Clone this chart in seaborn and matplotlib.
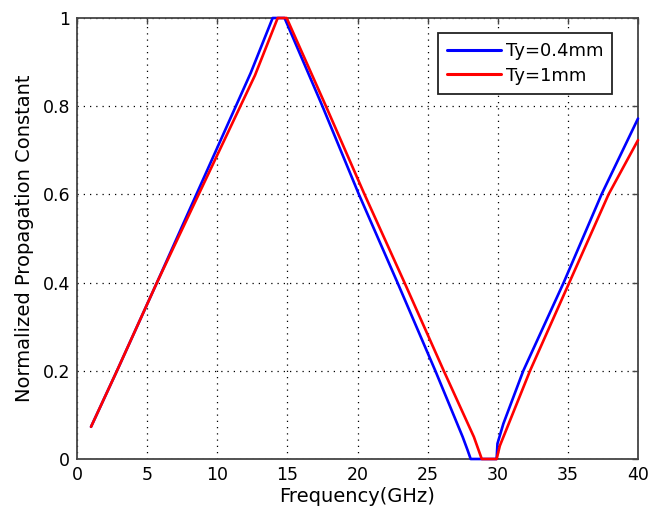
import numpy as np
import pandas as pd
import matplotlib
matplotlib.use("Agg")
import matplotlib.pyplot as plt
import seaborn as sns

# --- data ---
freq_blue = [1, 2.85, 5.7, 12.38, 13.95, 14.8, 17.5, 20.1, 22.85, 25.55,
             27.5, 27.85, 28.07, 29.92, 29.98, 30.4, 31.82, 34.7, 37.4, 40]
beta_blue = [0.073, 0.2, 0.4, 0.875, 1.0, 1.0, 0.8, 0.6, 0.4, 0.2,
             0.05, 0.02, 0.0, 0.0, 0.035, 0.08, 0.2, 0.4, 0.6, 0.772]
freq_red = [1, 2.85, 5.7, 12.69, 14.31, 14.95, 17.75, 20.5, 23.35, 26.15,
            28.3, 28.86, 29.92, 30.15, 32.3, 35.1, 37.9, 40]
beta_red = [0.073, 0.2, 0.4, 0.87, 1.0, 1.0, 0.8, 0.6, 0.4, 0.2,
            0.05, 0.0, 0.0, 0.03, 0.2, 0.4, 0.6, 0.723]
series_names = ["Ty=0.4mm", "Ty=1mm"]
series_colors = ["#0000ff", "#ff0000"]
x_ticks = [0, 5, 10, 15, 20, 25, 30, 35, 40]
y_ticks = [0, 0.2, 0.4, 0.6, 0.8, 1]
y_tick_labels = ["0", "0.2", "0.4", "0.6", "0.8", "1"]

df = pd.concat([
    pd.DataFrame({"f": freq_blue, "b": beta_blue, "s": series_names[0]}),
    pd.DataFrame({"f": freq_red, "b": beta_red, "s": series_names[1]}),
], ignore_index=True)

sns.set_style("white")
plt.rcParams["font.family"] = ["DejaVu Sans"]
plt.rcParams["text.color"] = "black"
plt.rcParams["axes.labelcolor"] = "black"

fig = plt.figure(figsize=(6.48, 5.13), dpi=100)
ax = fig.add_axes([77 / 648, 1 - 459 / 513, 561 / 648, 441 / 513])

sns.lineplot(data=df, x="f", y="b", hue="s", palette=dict(zip(series_names, series_colors)),
             sort=False, estimator=None, linewidth=1.9, ax=ax)
for ln in ax.get_lines():
    ln.set_clip_on(False)
    ln.set_zorder(5)

ax.set_xlim(0, 40)
ax.set_ylim(0, 1)
ax.set_xticks(x_ticks)
ax.set_xticklabels([str(t) for t in x_ticks])
ax.set_yticks(y_ticks)
ax.set_yticklabels(y_tick_labels)

ax.grid(True, color="black", linestyle=(0, (1, 4)), linewidth=0.9)
for sp in ax.spines.values():
    sp.set_visible(True)
    sp.set_color("#444444")
    sp.set_linewidth(1.3)
ax.tick_params(direction="in", length=4, width=1, colors="#444444",
               top=True, right=True, labelsize=12.5, labelcolor="black", pad=5)

ax.set_xlabel("Frequency(GHz)", fontsize=14, labelpad=2, color="black")
ax.set_ylabel("Normalized Propagation Constant", fontsize=14, labelpad=6, color="black")

leg = ax.legend(loc="upper right", bbox_to_anchor=(0.954, 0.965), borderaxespad=0,
                fontsize=13, handlelength=3.0, handletextpad=0.25,
                labelspacing=0.35, borderpad=0.5, fancybox=False, frameon=True,
                framealpha=1)
leg.get_frame().set_edgecolor("#222222")
leg.get_frame().set_linewidth(1.3)
for line in leg.get_lines():
    line.set_linewidth(2.2)
for t in leg.get_texts():
    t.set_color("black")

fig.savefig("out.png", dpi=100)
